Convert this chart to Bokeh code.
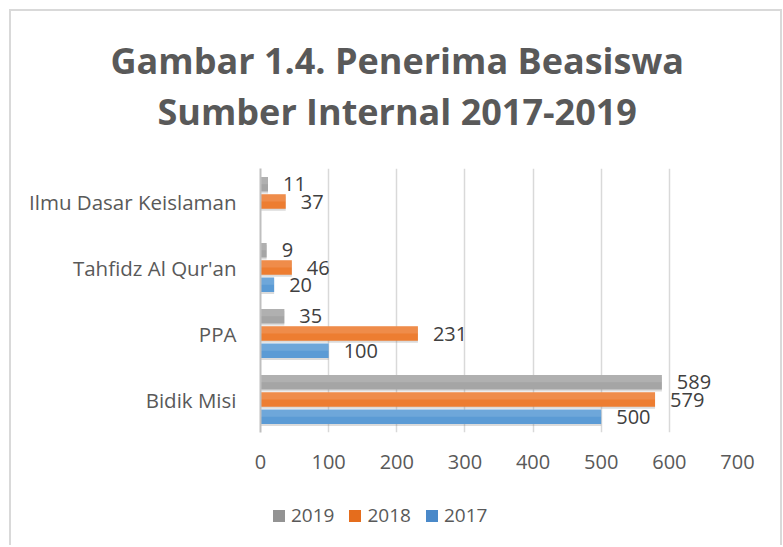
from bokeh.plotting import figure
from bokeh.layouts import column
from bokeh.models import (ColumnDataSource, FactorRange, Range1d, Legend, LegendItem,
                          FixedTicker, Title)
from bokeh.transform import dodge
from bokeh.core.properties import value
from bokeh.embed import file_html
from bokeh.resources import INLINE

# ---- data ----
categories = ["Bidik Misi", "PPA", "Tahfidz Al Qur'an", "Ilmu Dasar Keislaman"]
v2017 = [500, 100, 20, None]
v2018 = [579, 231, 46, 37]
v2019 = [589, 35, 9, 11]
x_ticks = [0, 100, 200, 300, 400, 500, 600, 700]
title_line1 = "Gambar 1.4. Penerima Beasiswa"
title_line2 = "Sumber Internal 2017-2019"

bar_colors = {"2017": "#5B9BD5", "2018": "#ED7D31", "2019": "#A5A5A5"}
legend_colors = {"2017": "#4A89C9", "2018": "#E56D1D", "2019": "#939393"}
offsets = {"2017": -0.26, "2018": 0.0, "2019": 0.26}
values = {"2017": v2017, "2018": v2018, "2019": v2019}

FONT = "Open Sans"

p = figure(width=769, height=484, output_backend="svg", toolbar_location=None,
           y_range=FactorRange(factors=categories), x_range=Range1d(0, 700),
           min_border_left=249, min_border_right=43, min_border_top=157,
           min_border_bottom=63)

p.title = Title(text=title_line1, text_font=FONT, text_font_size="36px",
                text_font_style="bold", text_color="#595959", align="left",
                offset=-150, standoff=0)
# items in p.above stack outward from the frame: spacer first, then line 2
spacer = Title(text=" ", text_font=FONT, text_font_size="20px", standoff=4)
p.add_layout(spacer, "above")
t2 = Title(text=title_line2, text_font=FONT, text_font_size="36px",
           text_font_style="bold", text_color="#595959", align="left",
           offset=-103, standoff=0)
p.add_layout(t2, "above")

p.outline_line_color = None
p.background_fill_color = "white"
p.border_fill_color = "white"

# axes
p.xaxis.ticker = FixedTicker(ticks=x_ticks)
p.xaxis.axis_line_color = None
p.xaxis.major_tick_line_color = None
p.xaxis.minor_tick_line_color = None
p.xaxis.major_tick_out = 0
p.xaxis.major_label_standoff = 22
p.xaxis.major_label_text_font = FONT
p.xaxis.major_label_text_font_size = "20px"
p.xaxis.major_label_text_color = "#595959"

p.yaxis.axis_line_color = "#BFBFBF"
p.yaxis.axis_line_width = 2
p.yaxis.major_tick_line_color = None
p.yaxis.minor_tick_line_color = None
p.yaxis.major_tick_out = 0
p.yaxis.major_label_standoff = 24
p.yaxis.major_label_text_font = FONT
p.yaxis.major_label_text_font_size = "20.5px"
p.yaxis.major_label_text_color = "#595959"

p.xgrid.ticker = FixedTicker(ticks=x_ticks)
p.xgrid.grid_line_color = "#D9D9D9"
p.xgrid.grid_line_width = 1.5
p.ygrid.grid_line_color = None

H = 0.22
for s in ["2019", "2018", "2017"]:
    cats = [c for c, v in zip(categories, values[s]) if v is not None]
    vals = [v for v in values[s] if v is not None]
    src = ColumnDataSource(dict(cat=cats, v=vals, lbl=[str(v) for v in vals]))
    off = offsets[s]
    p.hbar(y=dodge("cat", off - 0.03, range=p.y_range), left=0, right="v", height=H,
           source=src, fill_color="#7F7F7F", fill_alpha=0.28, line_color=None)
    p.hbar(y=dodge("cat", off, range=p.y_range), left=0, right="v", height=H,
           source=src, fill_color=bar_colors[s], line_color=None)
    p.hbar(y=dodge("cat", off + H / 4, range=p.y_range), left=0, right="v", height=H / 2,
           source=src, fill_color="white", fill_alpha=0.12, line_color=None)
    p.text(x="v", y=dodge("cat", off, range=p.y_range), text="lbl", source=src,
           x_offset=15, text_align="left", text_baseline="middle",
           text_font=value(FONT), text_font_size="20px", text_color="#404040")

# ---- legend strip (separate small figure, frame aligned with the chart's) ----
lg = figure(width=769, height=50, output_backend="svg", toolbar_location=None,
            x_range=Range1d(0, 1), y_range=Range1d(0, 1),
            min_border=0, min_border_left=0, min_border_right=0,
            min_border_top=0, min_border_bottom=0)
lg.axis.visible = False
lg.grid.visible = False
lg.outline_line_color = None
lg.border_fill_color = "white"
legend_items = []
for s in ["2019", "2018", "2017"]:
    key = lg.rect(x=[0], y=[0], width=0, height=0, fill_color=legend_colors[s],
                  line_color=None)
    legend_items.append(LegendItem(label=s, renderers=[key]))
legend = Legend(items=legend_items, orientation="horizontal", location=(11, 17),
                border_line_color=None, background_fill_alpha=0,
                label_text_font=FONT, label_text_font_size="19px",
                label_text_color="#595959", glyph_width=15, glyph_height=15,
                label_standoff=5, spacing=13, padding=0, margin=0)
lg.add_layout(legend, "center")

layout = column(p, lg, spacing=0,
                styles={"margin-left": "9px", "margin-top": "9px",
                        "border-left": "2px solid #D9D9D9",
                        "border-top": "2px solid #D9D9D9",
                        "border-right": "2px solid #D9D9D9"})

open("out.html", "w").write(file_html(layout, INLINE))
